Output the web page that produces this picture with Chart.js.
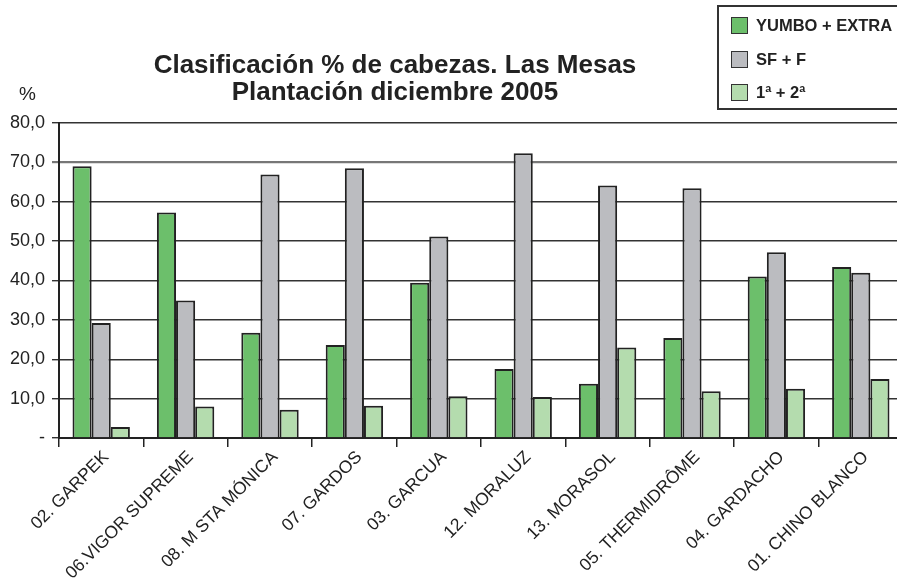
<!DOCTYPE html>
<html>
<head>
<meta charset="utf-8">
<script src="https://cdn.jsdelivr.net/npm/chart.js@4"></script>
<style>
  html, body { margin: 0; padding: 0; background: #fff; overflow: hidden; }
  body { width: 897px; height: 579px; position: relative; font-family: "Liberation Sans", Arial, sans-serif; color: #222; }
  #wrap { position: absolute; left: 0; top: 0; width: 905px; height: 579px; }
  #title { position: absolute; left: 95px; width: 600px; top: 51px; text-align: center; font-weight: bold; font-size: 26px; line-height: 27px; }
  #pct { position: absolute; left: 19px; top: 83px; font-size: 19px; }
  #legend { position: absolute; left: 717px; top: 5px; width: 190px; height: 105px; border: 2px solid #333; box-sizing: border-box; }
  .item { position: absolute; left: 12px; font-weight: bold; font-size: 16.5px; white-space: nowrap; }
  .item span { display: inline-block; width: 17px; height: 17px; border: 1.5px solid #333; box-sizing: border-box; vertical-align: -3px; margin-right: 8px; }
</style>
</head>
<body>
<div id="wrap"><canvas id="chart"></canvas></div>
<div id="title">Clasificación % de cabezas. Las Mesas<br>Plantación diciembre 2005</div>
<div id="pct">%</div>
<div id="legend"></div>
<script>
const categories = [
  "02. GARPEK", "06.VIGOR SUPREME", "08. M STA MÓNICA", "07. GARDOS", "03. GARCUA",
  "12. MORALUZ", "13. MORASOL", "05. THERMIDRÔME", "04. GARDACHO", "01. CHINO BLANCO"
];
const yumboExtra = [69.0, 57.3, 26.7, 23.6, 39.4, 17.5, 13.8, 25.4, 41.0, 43.4];
const sfF = [29.2, 34.9, 66.9, 68.5, 51.2, 72.3, 64.1, 63.4, 47.2, 42.0];
const primeraSegunda = [2.8, 8.0, 7.2, 8.2, 10.6, 10.4, 23.0, 11.9, 12.5, 15.0];
const seriesNames = ["YUMBO + EXTRA", "SF + F", "1ª + 2ª"];
const yTicks = [0, 10, 20, 30, 40, 50, 60, 70, 80];

const colors = ["#6cbf6b", "#bbbcc0", "#b4dcae"];
const family = "'Liberation Sans', Arial, sans-serif";

const legend = document.getElementById("legend");
seriesNames.forEach((name, i) => {
  const d = document.createElement("div");
  d.className = "item";
  d.style.top = (9 + i * 33.5) + "px";
  d.innerHTML = `<span style="background:${colors[i]}"></span>${name}`;
  legend.appendChild(d);
});

const ctx = document.getElementById("chart");
new Chart(ctx, {
  type: "bar",
  data: {
    labels: categories,
    datasets: [yumboExtra, sfF, primeraSegunda].map((data, i) => ({
      label: seriesNames[i],
      data,
      backgroundColor: colors[i],
      borderColor: "#222",
      borderWidth: 2,
      categoryPercentage: 0.68,
      barPercentage: 1.0,
    })),
  },
  options: {
    responsive: true,
    maintainAspectRatio: false,
    animation: false,
    layout: { padding: { top: 123, right: 2, left: 0, bottom: 0 } },
    plugins: { legend: { display: false }, tooltip: { enabled: false } },
    scales: {
      x: {
        grid: { drawOnChartArea: false, drawTicks: true, tickLength: 9, color: "#222", lineWidth: 1.5 },
        border: { color: "#222", width: 2 },
        ticks: { color: "#222", font: { family, size: 17.5 }, minRotation: 45, maxRotation: 45, autoSkip: false, padding: 0, labelOffset: 5 },
        afterFit: (s) => { s.height = 141; },
      },
      y: {
        min: 0,
        max: 80,
        afterBuildTicks: (s) => { s.ticks = yTicks.map((v) => ({ value: v })); },
        grid: {
          color: (c) => (c.tick && c.tick.value === 70 ? "#777" : "#333"),
          lineWidth: (c) => (c.tick && c.tick.value === 70 ? 2.2 : 1.4),
          tickLength: 7,
        },
        border: { color: "#222", width: 2 },
        ticks: {
          color: "#222",
          font: { family, size: 18 },
          padding: 7,
          callback: (v) => (v === 0 ? "-" : v.toFixed(1).replace(".", ",")),
        },
        afterFit: (s) => { s.width = 59; },
      },
    },
  },
});
</script>
</body>
</html>
